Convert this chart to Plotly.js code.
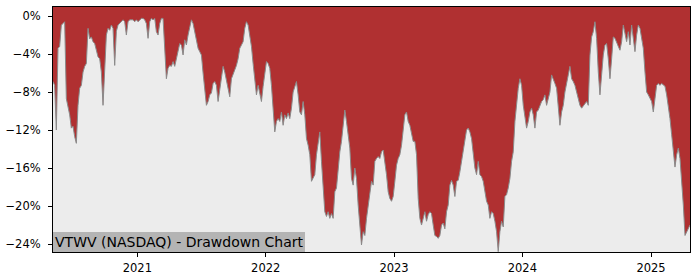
<!DOCTYPE html>
<html>
<head>
<meta charset="utf-8">
<script src="https://cdn.plot.ly/plotly-3.0.1.min.js"></script>
<style>html,body{margin:0;padding:0;background:#fff;}#chart{width:700px;height:280px;}</style>
</head>
<body>
<div id="chart"></div>
<script>
// Drawdown (%), evenly spaced samples (about every 4.74 days)
const startDate = '2020-05-06';
const stepDays = 4.743;

const ddPart1 = [-6.9,-7.3,-12.0,-3.4,-3.2,-0.95,-0.8,-0.6,-8.7,-9.4,-10.4,-11.8,-11.6,-12.7,-13.4,-9.4,-7.6,-7.3,-5.9,-5.3,-5.0,-1.3,-2.4,-2.2,-2.7,-2.9,-3.8,-4.3,-4.5,-5.9,-9.4,-5.9,-2.0,-1.3,-1.5,-0.95,-1.3,-5.2,-1.6,-0.95,-0.8,-0.6,-0.4,-0.6,-2.0,-0.6,-0.4,-0.4];
const ddPart2 = [-0.4,-0.6,-0.4,-0.6,-0.4,-0.25,-0.25,-0.4,-0.8,-2.35,-0.6,-0.25,-0.4,-0.25,-1.65,-2.0,-0.8,-0.25,-0.25,-3.4,-6.6,-5.5,-5.2,-5.3,-4.8,-5.3,-4.5,-3.9,-2.9,-3.05,-4.1,-2.5,-3.05,-2.0,-1.1,-0.4,-0.8,-1.8,-2.35,-3.4,-3.75,-4.1,-6.0,-7.6,-9.4,-9.0,-8.3,-8.1];
const ddPart3 = [-7.1,-6.9,-7.3,-9.0,-7.8,-6.2,-5.3,-5.9,-6.7,-7.6,-8.5,-6.6,-6.2,-5.7,-5.2,-4.5,-3.4,-3.05,-2.7,-1.3,-0.6,-0.95,-2.0,-3.2,-5.0,-6.9,-8.3,-7.3,-8.1,-9.0,-7.4,-5.9,-4.8,-5.0,-5.5,-7.3,-9.7,-12.2,-11.1,-10.8,-11.1,-10.1,-11.5,-10.4,-10.8,-10.2,-10.8,-9.7];
const ddPart4 = [-8.0,-7.3,-6.9,-8.3,-10.1,-10.4,-9.0,-10.4,-12.9,-13.6,-14.6,-17.4,-17.1,-16.7,-14.6,-13.2,-12.2,-15.3,-18.5,-20.6,-21.1,-20.6,-21.3,-20.8,-21.3,-18.5,-18.1,-15.7,-14.3,-13.2,-11.1,-9.9,-11.1,-12.9,-13.9,-17.1,-17.8,-16.0,-17.1,-19.9,-22.0,-24.1,-22.7,-23.1,-21.3,-19.9,-18.5,-17.4];
const ddPart5 = [-17.8,-15.3,-15.0,-14.8,-15.0,-14.3,-14.1,-15.3,-16.7,-18.5,-19.2,-19.5,-19.0,-17.4,-15.7,-15.0,-14.6,-13.6,-12.2,-10.4,-10.1,-11.1,-11.5,-12.5,-13.2,-13.2,-14.6,-19.2,-21.3,-22.0,-21.3,-20.6,-21.6,-20.9,-20.6,-20.8,-22.0,-23.1,-23.2,-23.4,-23.1,-22.0,-21.8,-22.4,-20.6,-19.9,-17.8,-17.3];
const ddPart6 = [-17.8,-19.0,-17.4,-17.3,-16.4,-15.3,-13.9,-12.9,-12.0,-11.8,-12.2,-12.9,-14.3,-16.0,-16.7,-15.3,-16.7,-16.9,-17.4,-18.5,-19.5,-19.9,-21.3,-20.6,-20.8,-21.6,-22.7,-24.8,-22.7,-21.6,-22.2,-19.0,-18.8,-18.1,-17.1,-15.3,-14.3,-11.1,-9.0,-7.6,-6.6,-7.3,-9.4,-10.4,-11.8,-11.1,-10.1,-9.7];
const ddPart7 = [-10.4,-11.8,-10.1,-9.9,-9.5,-9.0,-8.8,-8.3,-9.4,-8.7,-8.0,-6.2,-6.6,-7.1,-7.6,-10.1,-11.5,-10.1,-9.4,-8.0,-6.9,-6.2,-5.3,-6.6,-6.9,-7.3,-8.0,-8.8,-9.4,-9.7,-9.5,-9.2,-9.0,-9.4,-4.1,-2.2,-1.65,-0.6,-2.35,-5.9,-8.3,-6.2,-4.1,-3.05,-2.9,-4.5,-6.6,-4.5];
const ddPart8 = [-2.2,-2.35,-2.7,-3.2,-3.6,-2.7,-0.95,-2.0,-2.7,-1.65,-3.05,-0.95,-2.35,-3.75,-2.0,-0.95,-1.3,-2.35,-3.4,-5.9,-8.0,-8.3,-8.7,-9.0,-10.1,-8.3,-7.3,-7.1,-7.3,-7.1,-7.3,-7.4,-8.3,-9.4,-10.8,-12.5,-13.9,-15.9,-14.6,-13.9,-15.0,-17.1,-19.9,-23.1,-22.7,-22.4,-22.0];

const drawdown = [].concat(ddPart1, ddPart2, ddPart3, ddPart4, ddPart5, ddPart6, ddPart7, ddPart8);

const xTickVals = ['2021-01-01','2022-01-01','2023-01-01','2024-01-01','2025-01-01'];
const xTickText = ['2021','2022','2023','2024','2025'];
const yTickVals = [0,-4,-8,-12,-16,-20,-24];
const yTickText = ['0%','\u22124%','\u22128%','\u221212%','\u221216%','\u221220%','\u221224%'];
const labelText = 'VTWV (NASDAQ) - Drawdown Chart';

const DAY = 86400000;
const t0 = new Date(startDate + 'T00:00:00Z').getTime();
const tEnd = t0 + (drawdown.length - 1) * stepDays * DAY;
const fmt = t => new Date(t).toISOString().slice(0,19).replace('T',' ');

const RED = '#b03031';
const BG = '#ececec';

const trace = {
  type: 'scatter',
  mode: 'lines',
  x0: startDate,
  dx: stepDays * DAY,
  y: drawdown,
  fill: 'tozeroy',
  fillcolor: RED,
  line: {color: '#8a8a8a', width: 1},
  hoverinfo: 'skip'
};

const font = {family: 'DejaVu Sans, sans-serif', size: 11.5, color: '#000'};

const layout = {
  width: 700, height: 280,
  margin: {l: 53, r: 10, t: 7, b: 28, pad: 0},
  paper_bgcolor: '#ffffff',
  plot_bgcolor: BG,
  showlegend: false,
  font: font,
  xaxis: {
    type: 'date',
    range: [fmt(t0), fmt(tEnd)],
    tickvals: xTickVals, ticktext: xTickText,
    ticks: 'outside', ticklen: 4, tickwidth: 1, tickcolor: '#000',
    ticklabelstandoff: 1,
    showline: true, linecolor: '#000', linewidth: 1, mirror: true,
    showgrid: false, zeroline: false,
    tickfont: font
  },
  yaxis: {
    range: [-24.84, 0.95],
    tickvals: yTickVals, ticktext: yTickText,
    ticks: 'outside', ticklen: 4, tickwidth: 1, tickcolor: '#000',
    ticklabelstandoff: 5,
    showline: true, linecolor: '#000', linewidth: 1, mirror: true,
    showgrid: false, zeroline: false,
    tickfont: font
  },
  shapes: [{
    type: 'rect', layer: 'below',
    xref: 'paper', x0: 0, x1: 1,
    yref: 'y', y0: 0, y1: 5,
    fillcolor: RED, line: {width: 0}
  }],
  annotations: [{
    text: labelText,
    xref: 'paper', yref: 'paper', x: 0, y: 0,
    xanchor: 'left', yanchor: 'bottom',
    showarrow: false,
    bgcolor: '#b4b4b4', borderpad: 2, borderwidth: 0,
    font: {family: 'DejaVu Sans, sans-serif', size: 14, color: '#000'}
  }]
};

Plotly.newPlot('chart', [trace], layout, {displayModeBar: false, staticPlot: true});
</script>
</body>
</html>
